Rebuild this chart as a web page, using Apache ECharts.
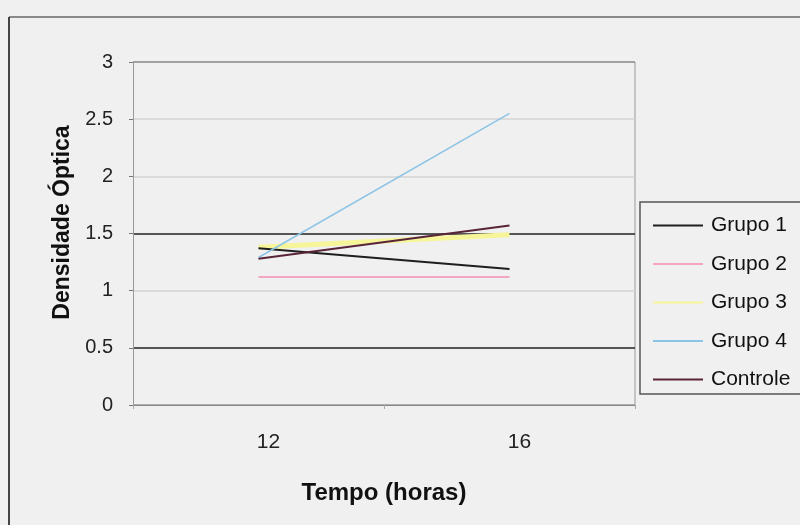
<!DOCTYPE html>
<html>
<head>
<meta charset="utf-8">
<script src="https://cdn.jsdelivr.net/npm/echarts@6/dist/echarts.min.js"></script>
<style>
  html, body { margin: 0; padding: 0; background: #f0f0f0; }
  #chart { width: 800px; height: 525px; }
</style>
</head>
<body>
<div id="chart"></div>
<script>
// tempo (horas)
var tempos = ['12', '16'];
// densidade optica por grupo
var grupo1 = [1.37, 1.19];
var grupo2 = [1.12, 1.12];
var grupo3 = [1.38, 1.49];
var grupo4 = [1.29, 2.55];
var controle = [1.28, 1.57];
var nomes = ['Grupo 1', 'Grupo 2', 'Grupo 3', 'Grupo 4', 'Controle'];
var cores = ['#1e1e1e', '#f4a6c4', '#f6f59a', '#8cc4e6', '#5a2438'];
var larguras = [2, 2, 5, 1.5, 2];

var myChart = echarts.init(document.getElementById('chart'));

function linha(i, dados) {
    return {
        name: nomes[i],
        type: 'line',
        symbol: 'none',
        data: dados,
        lineStyle: { color: cores[i], width: larguras[i] },
        itemStyle: { color: cores[i] },
        z: i == 2 ? 1 : 3
    };
}

var option = {
    backgroundColor: '#f0f0f0',
    animation: false,
    textStyle: { fontFamily: 'Liberation Sans, Arial, sans-serif' },
    grid: {
        left: 133,
        right: 165,
        top: 62,
        bottom: 120
    },
    legend: {
        data: nomes,
        orient: 'vertical',
        left: 653,
        top: 215,
        padding: 0,
        icon: 'rect',
        itemWidth: 50,
        itemHeight: 2,
        itemGap: 17.5,
        textStyle: { color: '#111', fontSize: 21, padding: [0, 0, 0, 3] },
        selectedMode: false
    },
    xAxis: {
        type: 'category',
        data: tempos,
        boundaryGap: true,
        name: 'Tempo (horas)',
        nameLocation: 'middle',
        nameGap: 76,
        nameTextStyle: { color: '#111', fontSize: 24, fontWeight: 'bold' },
        axisLine: { lineStyle: { color: '#888', width: 1 } },
        axisTick: { show: true, length: 4, lineStyle: { color: '#aaa' } },
        axisLabel: { color: '#222', fontSize: 21, margin: 27, padding: [0, 0, 0, 20] }
    },
    yAxis: {
        type: 'value',
        min: 0,
        max: 3,
        interval: 0.5,
        name: 'Densidade Óptica',
        nameLocation: 'middle',
        nameGap: 58,
        nameTextStyle: { color: '#111', fontSize: 23, fontWeight: 'bold', padding: [0, 0, 0, 22] },
        axisLine: { show: true, lineStyle: { color: '#999', width: 1 } },
        axisTick: { show: true, length: 4, lineStyle: { color: '#777' } },
        axisLabel: { color: '#222', fontSize: 20, margin: 20 },
        splitLine: {
            show: true,
            lineStyle: {
                color: ['#999', '#222', '#d4d4d4', '#222', '#d4d4d4', '#d4d4d4', '#888'],
                width: 1.5
            }
        }
    },
    graphic: [
        {   // borda externa do grafico
            type: 'line',
            shape: { x1: 9, y1: 17, x2: 800, y2: 17 },
            style: { stroke: '#888', lineWidth: 2 }
        },
        {
            type: 'line',
            shape: { x1: 9, y1: 17, x2: 9, y2: 525 },
            style: { stroke: '#444', lineWidth: 2 }
        },
        {   // borda direita da area do grafico
            type: 'line',
            shape: { x1: 635, y1: 62, x2: 635, y2: 405 },
            style: { stroke: '#999', lineWidth: 1 }
        },
        {   // caixa da legenda
            type: 'rect',
            shape: { x: 640, y: 202, width: 200, height: 192 },
            style: { fill: 'none', stroke: '#555', lineWidth: 1.5 },
            z: 10
        }
    ],
    series: [
        linha(0, grupo1),
        linha(1, grupo2),
        linha(2, grupo3),
        linha(3, grupo4),
        linha(4, controle)
    ]
};

myChart.setOption(option);
</script>
</body>
</html>
